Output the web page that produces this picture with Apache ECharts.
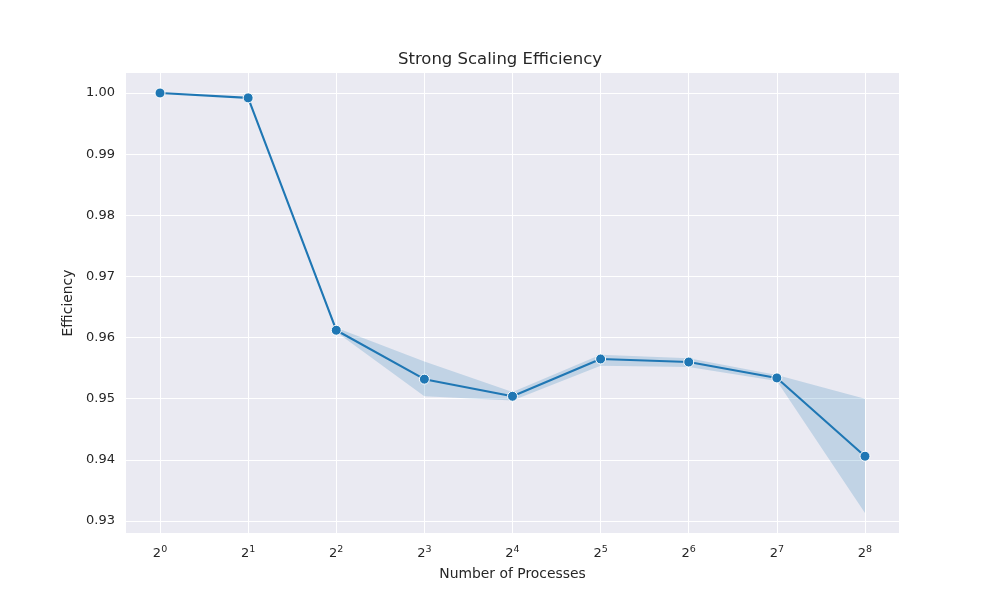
<!DOCTYPE html>
<html>
<head>
<meta charset="utf-8">
<script src="https://cdn.jsdelivr.net/npm/echarts@6/dist/echarts.min.js"></script>
<style>
  html, body { margin: 0; padding: 0; background: #fff; }
  #chart { width: 1000px; height: 600px; }
</style>
</head>
<body>
<div id="chart"></div>
<script>
// number of processes (x) and mean efficiency with its confidence band
var processes = [1, 2, 4, 8, 16, 32, 64, 128, 256];
var efficiency = [1.0000, 0.9992, 0.9612, 0.9532, 0.9504, 0.9565, 0.9560, 0.9534, 0.9406];
var ciLower = [1.0000, 0.9992, 0.9609, 0.9504, 0.9497, 0.9554, 0.9552, 0.9529, 0.9313];
var ciUpper = [1.0000, 0.9992, 0.9616, 0.9561, 0.9511, 0.9572, 0.9566, 0.9539, 0.9500];
var yTicks = [0.93, 0.94, 0.95, 0.96, 0.97, 0.98, 0.99, 1.00];

var lineColor = '#1f77b4';
var textColor = '#262626';
var font = 'DejaVu Sans';

var myChart = echarts.init(document.getElementById('chart'));

var meanData = [], bandData = [];
for (var i = 0; i < processes.length; i++) {
	meanData.push([processes[i], efficiency[i]]);
	bandData.push([processes[i], ciLower[i], ciUpper[i]]);
}

// confidence band drawn as one polygon through the axis scales
function renderBand(params, api) {
	if (params.dataIndex !== 0) return;
	var pts = [];
	for (var j = 0; j < bandData.length; j++) {
		pts.push(api.coord([bandData[j][0], bandData[j][2]]));
	}
	for (var k = bandData.length - 1; k >= 0; k--) {
		pts.push(api.coord([bandData[k][0], bandData[k][1]]));
	}
	return {
		type: 'polygon',
		shape: { points: pts },
		style: { fill: 'rgba(31,119,180,0.2)', stroke: 'none' },
		silent: true
	};
}

var option = {
	backgroundColor: '#ffffff',
	animation: false,
	textStyle: { fontFamily: font },
	title: {
		text: 'Strong Scaling Efficiency',
		left: 'center',
		top: 46,
		textStyle: { fontFamily: font, fontSize: 16.5, fontWeight: 'normal', color: textColor }
	},
	grid: {
		left: 126,
		right: 101,
		top: 73,
		bottom: 67,
		show: true,
		backgroundColor: '#eaeaf2',
		borderWidth: 0
	},
	xAxis: {
		type: 'log',
		logBase: 2,
		min: Math.pow(2, -0.386),
		max: Math.pow(2, 8.386),
		name: 'Number of Processes',
		nameLocation: 'middle',
		nameGap: 34,
		nameTextStyle: { fontFamily: font, fontSize: 13.9, color: textColor },
		axisLine: { show: false },
		axisTick: { show: false, customValues: processes },
		axisLabel: {
			customValues: processes,
			margin: 12,
			formatter: function (v) {
				return '{base|2}{sup|' + Math.round(Math.log2(v)) + '}';
			},
			rich: {
				base: { fontFamily: font, fontSize: 13, color: textColor },
				sup: { fontFamily: font, fontSize: 9.5, color: textColor, padding: [0, 0, 8, 0] }
			}
		},
		splitLine: { show: true, lineStyle: { color: '#ffffff', width: 1 } }
	},
	yAxis: {
		type: 'value',
		min: 0.92804,
		max: 1.00327,
		name: 'Efficiency',
		nameLocation: 'middle',
		nameGap: 45,
		nameRotate: 90,
		nameTextStyle: { fontFamily: font, fontSize: 13.9, color: textColor },
		axisLine: { show: false },
		axisTick: { show: false, customValues: yTicks },
		axisLabel: {
			customValues: yTicks,
			margin: 11,
			fontFamily: font,
			fontSize: 13,
			color: textColor,
			formatter: function (v) { return v.toFixed(2); }
		},
		splitLine: { show: true, lineStyle: { color: '#ffffff', width: 1 } }
	},
	series: [
		{
			name: 'band',
			type: 'custom',
			data: bandData,
			renderItem: renderBand,
			encode: { x: 0, y: [1, 2] },
			silent: true,
			z: 2
		},
		{
			name: 'Efficiency',
			type: 'line',
			data: meanData,
			symbol: 'circle',
			symbolSize: 10,
			lineStyle: { color: lineColor, width: 2.1 },
			itemStyle: { color: lineColor, borderColor: '#ffffff', borderWidth: 1 },
			z: 5
		}
	]
};
myChart.setOption(option);
</script>
</body>
</html>
